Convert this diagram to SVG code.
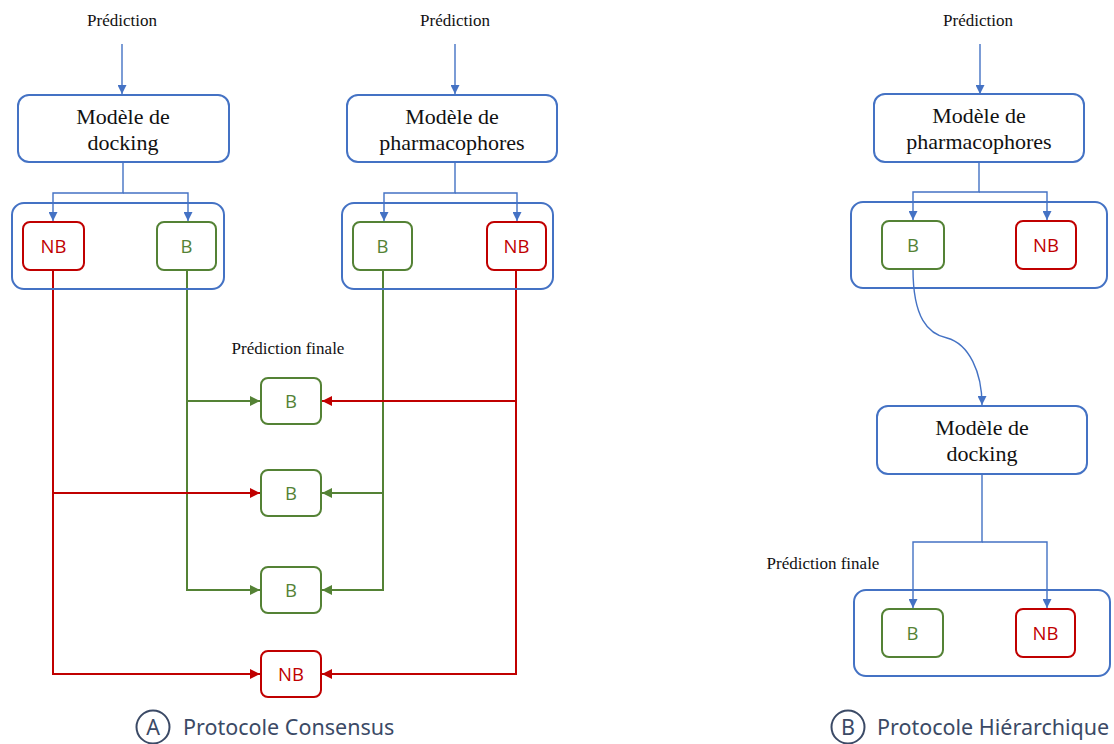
<svg xmlns="http://www.w3.org/2000/svg" width="1114" height="744" viewBox="0 0 1114 744">
<style>
.bg{fill:#ffffff}
.big{fill:#ffffff;stroke:#4472C4;stroke-width:2}
.cont{fill:none;stroke:#4472C4;stroke-width:2}
.nb{fill:#ffffff;stroke:#C00000;stroke-width:2}
.b{fill:#ffffff;stroke:#548235;stroke-width:2}
.serif{font-family:"Liberation Serif","Times New Roman",serif;fill:#111111}
.lbl{font-size:17px}
.mtxt{font-size:22px}
.st{font-family:"Open Sans","Noto Sans",sans-serif;font-size:18.5px}
.tnb{fill:#C00000}
.tb{fill:#548235}
.blue{fill:none;stroke:#4472C4;stroke-width:1.4}
.red{fill:none;stroke:#C00000;stroke-width:2}
.green{fill:none;stroke:#548235;stroke-width:2}
.cap{font-family:"Noto Sans","Open Sans",sans-serif;font-size:21.5px;fill:#3B4A66}
.capc{fill:none;stroke:#3B4A66;stroke-width:2}
</style>
<defs>
<marker id="ab" markerUnits="userSpaceOnUse" markerWidth="9" markerHeight="9" refX="9" refY="4.5" orient="auto"><path d="M0,0 L9,4.5 L0,9 z" fill="#4472C4"/></marker>
<marker id="ar" markerUnits="userSpaceOnUse" markerWidth="10" markerHeight="10" refX="10" refY="5" orient="auto"><path d="M0,0 L10,5 L0,10 z" fill="#C00000"/></marker>
<marker id="ag" markerUnits="userSpaceOnUse" markerWidth="10" markerHeight="10" refX="10" refY="5" orient="auto"><path d="M0,0 L10,5 L0,10 z" fill="#548235"/></marker>
</defs>
<rect class="bg" x="0" y="0" width="1114" height="744"/>

<g id="connectors">
<path class="blue" d="M122 44 V94" marker-end="url(#ab)"/>
<path class="blue" d="M455 44 V94" marker-end="url(#ab)"/>
<path class="blue" d="M123 163 V193 H53 V221" marker-end="url(#ab)"/>
<path class="blue" d="M123 193 H188 V221" marker-end="url(#ab)"/>
<path class="blue" d="M455 163 V193 H384 V221" marker-end="url(#ab)"/>
<path class="blue" d="M455 193 H517 V221" marker-end="url(#ab)"/>
<path class="green" d="M187 270 V590 H260" marker-end="url(#ag)"/>
<path class="green" d="M187 401 H260" marker-end="url(#ag)"/>
<path class="green" d="M383 270 V590 H322" marker-end="url(#ag)"/>
<path class="green" d="M383 493 H322" marker-end="url(#ag)"/>
<path class="red" d="M53 270 V674 H260" marker-end="url(#ar)"/>
<path class="red" d="M53 493 H260" marker-end="url(#ar)"/>
<path class="red" d="M516 270 V674 H322" marker-end="url(#ar)"/>
<path class="red" d="M516 401 H322" marker-end="url(#ar)"/>
<path class="blue" d="M980 44 V94" marker-end="url(#ab)"/>
<path class="blue" d="M979 163 V192 H913 V220" marker-end="url(#ab)"/>
<path class="blue" d="M979 192 H1047 V220" marker-end="url(#ab)"/>
<path class="blue" d="M913 269 C913 318 928 334 947 338 C969 344 982 372 982 405" marker-end="url(#ab)"/>
<path class="blue" d="M982 475 V542 H913 V608" marker-end="url(#ab)"/>
<path class="blue" d="M982 542 H1047 V608" marker-end="url(#ab)"/>
</g>

<g id="pred-a1"><text class="serif lbl" x="122" y="26" text-anchor="middle">Prédiction</text></g>
<g id="pred-a2"><text class="serif lbl" x="455" y="26" text-anchor="middle">Prédiction</text></g>

<g id="dock-a">
<rect class="big" x="18" y="95" width="211" height="67" rx="11"/>
<text class="serif mtxt" x="123" y="124" text-anchor="middle">Modèle de</text>
<text class="serif mtxt" x="123" y="150" text-anchor="middle">docking</text>
</g>
<g id="pharm-a">
<rect class="big" x="347" y="95" width="210" height="67" rx="11"/>
<text class="serif mtxt" x="452" y="124" text-anchor="middle">Modèle de</text>
<text class="serif mtxt" x="452" y="150" text-anchor="middle">pharmacophores</text>
</g>

<g id="cont-a1"><rect class="cont" x="12" y="203" width="212" height="86" rx="12"/></g>
<g id="cont-a2"><rect class="cont" x="342" y="203" width="211" height="86" rx="12"/></g>

<g id="dock-a-nb"><rect class="nb" x="23" y="222" width="61" height="48" rx="7"/><text class="st tnb" x="53.5" y="253" text-anchor="middle">NB</text></g>
<g id="dock-a-b"><rect class="b" x="157" y="222" width="59" height="48" rx="7"/><text class="st tb" x="186.5" y="253" text-anchor="middle">B</text></g>
<g id="pharm-a-b"><rect class="b" x="353" y="222" width="59" height="48" rx="7"/><text class="st tb" x="382.5" y="253" text-anchor="middle">B</text></g>
<g id="pharm-a-nb"><rect class="nb" x="487" y="222" width="59" height="48" rx="7"/><text class="st tnb" x="516.5" y="253" text-anchor="middle">NB</text></g>

<g id="final-a-label"><text class="serif lbl" x="288" y="354" text-anchor="middle">Prédiction finale</text></g>
<g id="final-a1"><rect class="b" x="261" y="378" width="60" height="46" rx="7"/><text class="st tb" x="291" y="408" text-anchor="middle">B</text></g>
<g id="final-a2"><rect class="b" x="261" y="470" width="60" height="46" rx="7"/><text class="st tb" x="291" y="500" text-anchor="middle">B</text></g>
<g id="final-a3"><rect class="b" x="261" y="567" width="60" height="46" rx="7"/><text class="st tb" x="291" y="597" text-anchor="middle">B</text></g>
<g id="final-a4"><rect class="nb" x="261" y="651" width="60" height="46" rx="7"/><text class="st tnb" x="291" y="681" text-anchor="middle">NB</text></g>

<g id="caption-a">
<circle class="capc" cx="153" cy="727" r="16.5"/>
<text class="cap" x="153" y="735" text-anchor="middle">A</text>
<text class="cap" x="183" y="735">Protocole Consensus</text>
</g>

<g id="pred-b"><text class="serif lbl" x="978" y="26" text-anchor="middle">Prédiction</text></g>
<g id="pharm-b">
<rect class="big" x="874" y="94" width="210" height="68" rx="11"/>
<text class="serif mtxt" x="979" y="123" text-anchor="middle">Modèle de</text>
<text class="serif mtxt" x="979" y="149" text-anchor="middle">pharmacophores</text>
</g>
<g id="cont-b1"><rect class="cont" x="851" y="202" width="256" height="86" rx="12"/></g>
<g id="pharm-b-b"><rect class="b" x="882" y="221" width="62" height="48" rx="7"/><text class="st tb" x="913" y="252" text-anchor="middle">B</text></g>
<g id="pharm-b-nb"><rect class="nb" x="1016" y="221" width="60" height="48" rx="7"/><text class="st tnb" x="1046" y="252" text-anchor="middle">NB</text></g>

<g id="dock-b">
<rect class="big" x="877" y="406" width="210" height="68" rx="11"/>
<text class="serif mtxt" x="982" y="435" text-anchor="middle">Modèle de</text>
<text class="serif mtxt" x="982" y="461" text-anchor="middle">docking</text>
</g>
<g id="final-b-label"><text class="serif lbl" x="823" y="569" text-anchor="middle">Prédiction finale</text></g>
<g id="cont-b2"><rect class="cont" x="854" y="590" width="256" height="86" rx="12"/></g>
<g id="dock-b-b"><rect class="b" x="882" y="609" width="61" height="48" rx="7"/><text class="st tb" x="912.5" y="640" text-anchor="middle">B</text></g>
<g id="dock-b-nb"><rect class="nb" x="1016" y="609" width="59" height="48" rx="7"/><text class="st tnb" x="1045.5" y="640" text-anchor="middle">NB</text></g>

<g id="caption-b">
<circle class="capc" cx="848" cy="727" r="16.5"/>
<text class="cap" x="848" y="735" text-anchor="middle">B</text>
<text class="cap" x="877" y="735">Protocole Hiérarchique</text>
</g>
</svg>
